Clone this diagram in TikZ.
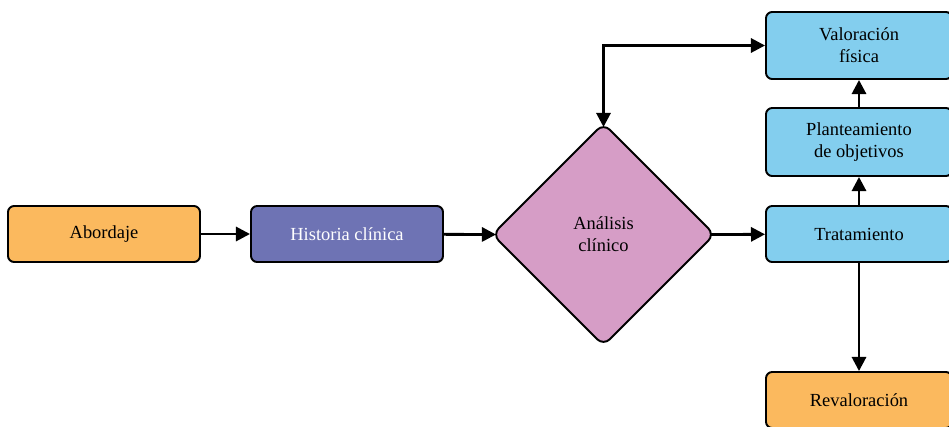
\documentclass[tikz,border=0pt]{standalone}
\usepackage{fontspec}
\setmainfont{Liberation Serif}
\usetikzlibrary{shapes.geometric,arrows.meta}

\definecolor{naranja}{RGB}{251,185,94}
\definecolor{morado}{RGB}{110,115,180}
\definecolor{rosa}{RGB}{214,157,198}
\definecolor{celeste}{RGB}{131,206,238}

\tikzset{
	caja/.style={draw=black, line width=1.1pt, rounded corners=3.5pt, align=center,
		minimum width=192*0.02cm, minimum height=56*0.02cm, inner sep=2pt,
		font=\fontsize{10.5}{12.5}\selectfont},
	rombo/.style={diamond, draw=black, line width=1.1pt, rounded corners=5pt, align=center,
		fill=rosa, inner sep=0pt, outer sep=0pt, minimum width=222*0.02cm, minimum height=222*0.02cm,
		font=\fontsize{10.5}{12.5}\selectfont},
	flecha/.style={line width=1.6pt, -{Triangle[length=8pt,width=8pt]}},
}

\begin{document}
\begin{tikzpicture}[x=0.02cm, y=-0.02cm]
	\useasboundingbox (0,0) rectangle (949,426);

	\node[caja, fill=naranja] (abordaje) at (104,234) {Abordaje};
	\node[caja, fill=morado, text=white] (historia) at (347,234) {Historia clínica};
	\node[rombo] (analisis) at (603.5,234.5) {Análisis\\clínico};
	\node[caja, fill=celeste, minimum width=186*0.02cm] (tratamiento) at (859,234) {Tratamiento};
	\node[caja, fill=celeste, minimum width=186*0.02cm, minimum height=68*0.02cm] (planteamiento) at (859,142) {Planteamiento\\de objetivos};
	\node[caja, fill=celeste, minimum width=186*0.02cm, minimum height=67*0.02cm] (valoracion) at (859,45.5) {Valoración\\física};
	\node[caja, fill=naranja, minimum width=186*0.02cm] (revaloracion) at (859,400) {Revaloración};

	\draw[flecha] (abordaje) -- (historia);
	\draw[flecha, shorten >=-2pt] (historia) -- (analisis.west);
	\draw[flecha, shorten <=-2pt] (analisis.east) -- (tratamiento);
	\draw[flecha] (tratamiento) -- (planteamiento);
	\draw[flecha] (planteamiento) -- (valoracion);
	\draw[flecha] (tratamiento) -- (revaloracion);
	\draw[flecha, {Triangle[length=8pt,width=8pt]}-{Triangle[length=8pt,width=8pt]}, shorten <=-2pt] (analisis.north) |- (valoracion.west);
\end{tikzpicture}
\end{document}
